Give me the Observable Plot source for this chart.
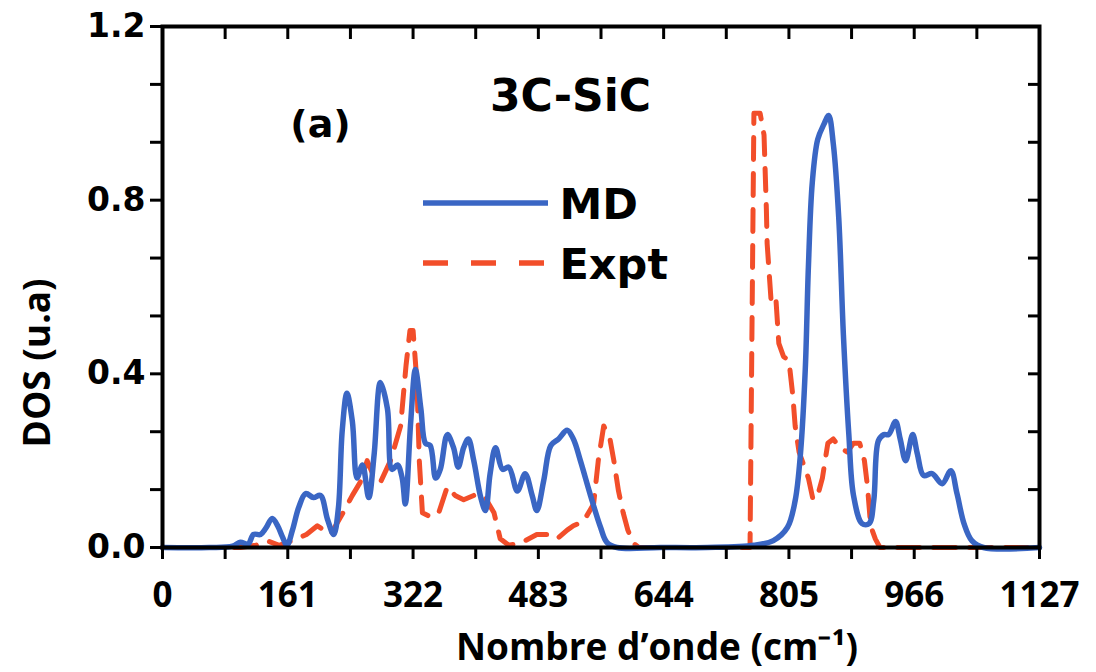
<!DOCTYPE html>
<html>
<head>
<meta charset="utf-8">
<script src="https://cdn.jsdelivr.net/npm/d3@7"></script>
<script src="https://cdn.jsdelivr.net/npm/@observablehq/plot@0.6"></script>
<style>
  html, body { margin: 0; padding: 0; background: #ffffff; }
  #chart svg { display: block; background: #ffffff; }
</style>
</head>
<body>
<div id="chart"></div>
<script>
// ---- data ----
const mdX = [0, 60, 90, 100, 110, 117, 126, 133, 141, 148, 154, 160, 167, 175, 184, 194, 203, 212, 220, 226, 231, 237, 244, 250, 257, 265, 272, 280, 289, 295, 302, 308, 312, 319, 325, 332, 338, 344, 351, 357, 366, 374, 380, 387, 393, 400, 409, 415, 421, 428, 437, 445, 456, 466, 475, 481, 490, 499, 509, 520, 528, 537, 550, 563, 571, 584, 640, 700, 760, 785, 803, 813, 820, 826, 830, 835, 842, 850, 856, 862, 869, 875, 882, 888, 899, 908, 914, 920, 927, 933, 942, 948, 955, 964, 970, 978, 989, 1002, 1013, 1021, 1030, 1040, 1055, 1127];
const mdY = [0, 0, 0.003, 0.012, 0.008, 0.03, 0.03, 0.045, 0.067, 0.05, 0.025, 0.005, 0.04, 0.092, 0.124, 0.115, 0.12, 0.065, 0.03, 0.09, 0.27, 0.355, 0.29, 0.16, 0.19, 0.115, 0.215, 0.38, 0.32, 0.18, 0.19, 0.16, 0.1, 0.29, 0.41, 0.32, 0.24, 0.235, 0.16, 0.18, 0.26, 0.23, 0.185, 0.23, 0.25, 0.2, 0.115, 0.085, 0.17, 0.23, 0.18, 0.185, 0.13, 0.17, 0.12, 0.085, 0.155, 0.235, 0.25, 0.27, 0.25, 0.2, 0.12, 0.046, 0.012, 0, 0, 0, 0.005, 0.016, 0.046, 0.108, 0.22, 0.41, 0.645, 0.84, 0.94, 0.975, 0.995, 0.93, 0.76, 0.49, 0.26, 0.12, 0.055, 0.055, 0.108, 0.246, 0.26, 0.26, 0.29, 0.25, 0.2, 0.26, 0.216, 0.166, 0.17, 0.147, 0.177, 0.124, 0.055, 0.016, 0, 0];

const exX = [0, 100, 120, 135, 150, 173, 185, 199, 216, 232, 244, 254, 263, 270, 280, 293, 306, 313, 318, 322, 327, 330, 334, 345, 355, 366, 376, 387, 400, 413, 426, 434, 445, 460, 481, 494, 507, 520, 528, 541, 554, 560, 567, 575, 580, 586, 592, 598, 605, 612, 700, 755, 760, 768, 773, 776, 777, 782, 788, 792, 798, 805, 810, 813, 818, 822, 830, 836, 842, 848, 855, 862, 870, 880, 888, 896, 902, 906, 910, 916, 922, 1127];
const exY = [0, 0, 0.005, 0.015, 0.005, 0.02, 0.03, 0.05, 0.03, 0.08, 0.12, 0.15, 0.2, 0.17, 0.15, 0.2, 0.28, 0.42, 0.5, 0.5, 0.38, 0.2, 0.08, 0.07, 0.08, 0.14, 0.12, 0.11, 0.12, 0.12, 0.08, 0.02, 0.005, 0.01, 0.03, 0.03, 0.02, 0.04, 0.05, 0.06, 0.1, 0.2, 0.28, 0.25, 0.2, 0.13, 0.08, 0.04, 0.01, 0, 0, 0, 1.0, 1.0, 0.95, 0.78, 0.7, 0.57, 0.58, 0.47, 0.44, 0.43, 0.35, 0.28, 0.22, 0.2, 0.16, 0.11, 0.12, 0.16, 0.24, 0.25, 0.23, 0.22, 0.24, 0.24, 0.2, 0.14, 0.05, 0.02, 0, 0];

const xTickLabels = [0, 161, 322, 483, 644, 805, 966, 1127];
const xMinorTicks = d3.range(0, 15).map(i => i * 80.5);
const yTickLabels = [0, 0.4, 0.8, 1.2];
const yMinorTicks = d3.range(0, 10).map(i => i * 0.4 / 3);

const seriesNames = ["MD", "Expt"];
const colors = { MD: "#3a66c4", Expt: "#f24e2a" };

const md = mdX.map((x, i) => ({ x, y: mdY[i] }));
const ex = exX.map((x, i) => ({ x, y: exY[i] }));

const W = 1096, H = 672;
const mL = 162, mR = 57, mT = 26, mB = 125;
const xMin = 0, xMax = 1127, yMin = 0, yMax = 1.2;

const chart = Plot.plot({
  width: W,
  height: H,
  marginLeft: mL,
  marginRight: mR,
  marginTop: mT,
  marginBottom: mB,
  x: { domain: [xMin, xMax] },
  y: { domain: [yMin, yMax] },
  style: { background: "#ffffff", color: "black" },
  marks: [
    Plot.line(ex, { x: "x", y: "y", stroke: colors.Expt, strokeWidth: 5, strokeDasharray: "22,14", curve: "linear" }),
    Plot.line(md, { x: "x", y: "y", stroke: colors.MD, strokeWidth: 5.5, curve: "catmull-rom" }),
    Plot.frame({ stroke: "black", strokeWidth: 4 }),
    // ticks: bottom (outward), top (inward), left (outward), right (inward)
    Plot.axisX({ ticks: xMinorTicks, anchor: "bottom", tickSize: 12, strokeWidth: 3, text: null, label: null }),
    Plot.axisX({ ticks: xMinorTicks, anchor: "top", tickSize: -12, strokeWidth: 3, text: null, label: null }),
    Plot.axisY({ ticks: yMinorTicks, anchor: "left", tickSize: 12, strokeWidth: 3, text: null, label: null }),
    Plot.axisY({ ticks: yMinorTicks, anchor: "right", tickSize: -12, strokeWidth: 3, text: null, label: null }),
    // tick labels
    Plot.axisX({ ticks: xTickLabels, anchor: "bottom", tickSize: 0, tickPadding: 35, tickFormat: d => String(d),
      fontSize: 35, fontWeight: "bold", fontFamily: "Open Sans", label: null }),
    Plot.axisY({ ticks: yTickLabels, anchor: "left", tickSize: 0, tickPadding: 17, tickFormat: d => d.toFixed(1),
      fontSize: 33, fontWeight: "bold", fontFamily: "DejaVu Sans", label: null }),
    // axis titles
    Plot.text(["Nombre d\u2019onde (cm\u207B\u00B9)"], { frameAnchor: "bottom", dx: 56, dy: 101, lineAnchor: "middle",
      fontSize: 37, fontWeight: "bold", fontFamily: "Open Sans", fill: "black" }),
    Plot.text(["DOS (u.a)"], { frameAnchor: "bottom-left", rotate: -90, dx: -124, dy: -100, textAnchor: "start", lineAnchor: "middle",
      fontSize: 37, fontWeight: "bold", fontFamily: "Open Sans", fill: "black" }),
    // annotations
    Plot.text(["3C-SiC"], { frameAnchor: "top-left", dx: 408, dy: 70, textAnchor: "middle", lineAnchor: "middle",
      fontSize: 44, fontWeight: "bold", fontFamily: "DejaVu Sans", fill: "black" }),
    Plot.text(["(a)"], { frameAnchor: "top-left", dx: 158, dy: 98, textAnchor: "middle", lineAnchor: "middle",
      fontSize: 38, fontWeight: "bold", fontFamily: "DejaVu Sans", fill: "black" }),
    Plot.text([seriesNames[0]], { frameAnchor: "top-left", dx: 397, dy: 179, textAnchor: "start", lineAnchor: "middle",
      fontSize: 43, fontWeight: "bold", fontFamily: "DejaVu Sans", fill: "black" }),
    Plot.text([seriesNames[1]], { frameAnchor: "top-left", dx: 397, dy: 239, textAnchor: "start", lineAnchor: "middle",
      fontSize: 43, fontWeight: "bold", fontFamily: "DejaVu Sans", fill: "black" })
  ]
});

// legend swatches
const svg = d3.select(chart);
const leg = svg.append("g").attr("class", "legend-swatches");
leg.append("line").attr("x1", 423).attr("x2", 548).attr("y1", 203).attr("y2", 203)
  .attr("stroke", colors.MD).attr("stroke-width", 5.5);
leg.append("line").attr("x1", 423).attr("x2", 547).attr("y1", 263).attr("y2", 263)
  .attr("stroke", colors.Expt).attr("stroke-width", 5.5).attr("stroke-dasharray", "25,23");

document.getElementById("chart").appendChild(chart);
</script>
</body>
</html>
